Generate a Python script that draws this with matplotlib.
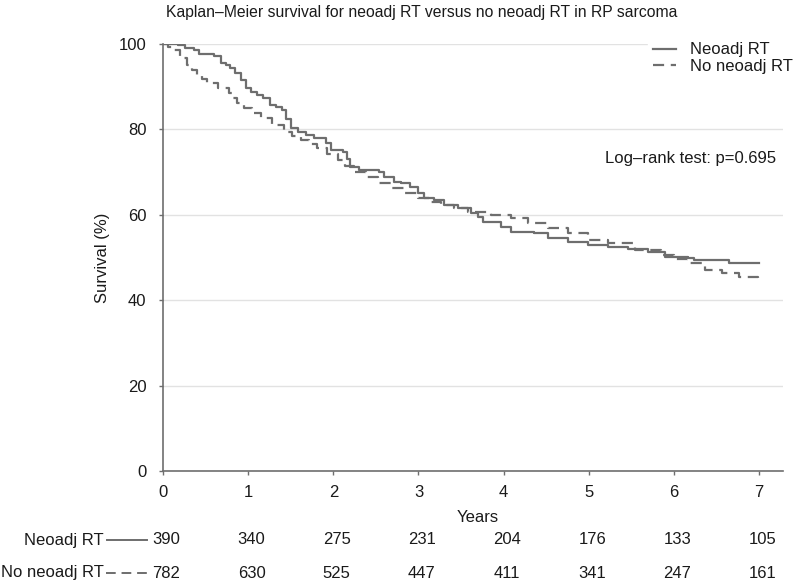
import matplotlib
matplotlib.use("Agg")
import matplotlib.pyplot as plt
from matplotlib.lines import Line2D
import matplotlib.transforms as mtransforms

plt.rcParams['font.family'] = ['Liberation Sans', 'DejaVu Sans']

# Kaplan-Meier curves (years, survival %)
neo_t = [0, 0.18, 0.26, 0.36, 0.42, 0.6, 0.68, 0.74, 0.79, 0.85,
         0.91, 0.97, 1.03, 1.10, 1.18, 1.26, 1.33, 1.40, 1.45, 1.50,
         1.58, 1.68, 1.77, 1.91, 1.97, 2.11, 2.16, 2.2, 2.3, 2.54,
         2.6, 2.71, 2.79, 2.9, 2.99, 3.07, 3.18, 3.30, 3.46, 3.62,
         3.70, 3.76, 3.97, 4.09, 4.36, 4.52, 4.76, 4.99, 5.23, 5.46,
         5.70, 5.89, 6.17, 6.24, 6.65, 7.0]
neo_s = [100, 99.8, 99.0, 98.6, 97.7, 97.2, 95.5, 95.0, 94.3, 93.1,
         91.6, 89.7, 88.8, 88.0, 87.3, 85.7, 85.2, 84.5, 82.5, 80.3,
         79.5, 78.8, 78.0, 76.8, 75.2, 74.8, 73.0, 71.3, 70.5, 70.1,
         68.9, 67.7, 67.4, 66.5, 65.0, 63.9, 63.5, 62.3, 61.6, 60.4,
         59.5, 58.4, 57.2, 56.0, 55.7, 54.5, 53.7, 52.9, 52.5, 52.0,
         51.4, 50.2, 50.0, 49.3, 48.8, 48.8]

no_t = [0, 0.06, 0.12, 0.2, 0.28, 0.34, 0.40, 0.46, 0.52, 0.64,
        0.77, 0.82, 0.87, 0.95, 1.05, 1.15, 1.28, 1.42, 1.52, 1.62,
        1.71, 1.81, 1.93, 2.05, 2.14, 2.24, 2.38, 2.52, 2.68, 2.83,
        2.99, 3.15, 3.26, 3.42, 3.58, 3.85, 4.09, 4.28, 4.52, 4.76,
        4.99, 5.23, 5.54, 5.85, 6.0, 6.17, 6.36, 6.56, 6.76, 6.99]
no_s = [100, 99.4, 98.6, 96.7, 95.1, 94.0, 92.7, 91.8, 90.9, 89.8,
        88.5, 87.3, 86.2, 85.0, 83.8, 82.7, 81.0, 79.5, 78.5, 77.5,
        76.6, 75.6, 74.2, 72.8, 71.5, 70.1, 68.8, 67.4, 66.2, 65.0,
        64.0, 63.1, 62.3, 61.5, 60.7, 59.9, 59.2, 58.0, 56.8, 55.7,
        54.1, 53.3, 51.8, 50.6, 49.6, 48.6, 47.1, 46.3, 45.5, 44.3]

# Numbers at risk
risk_years = [0, 1, 2, 3, 4, 5, 6, 7]
risk_neo = [390, 340, 275, 231, 204, 176, 133, 105]
risk_no = [782, 630, 525, 447, 411, 341, 247, 161]

x_ticks = [0, 1, 2, 3, 4, 5, 6, 7]
y_ticks = [0, 20, 40, 60, 80, 100]

W, H = 800, 588
FS = 12
fig = plt.figure(figsize=(8, 5.88), dpi=100)
ax = fig.add_axes([163 / W, 1 - 471 / H, (783 - 163) / W, (471 - 44) / H])

gray = '#6e6e6e'
txt = '#1a1a1a'

ax.set_xlim(0, 7.28)
ax.set_ylim(0, 100)
ax.set_yticks(y_ticks)
ax.set_xticks(x_ticks)
ax.grid(axis='y', color='#e2e2e2', linewidth=1.0)
ax.set_axisbelow(True)
for s in ['top', 'right']:
    ax.spines[s].set_visible(False)
for s in ['left', 'bottom']:
    ax.spines[s].set_color(gray)
    ax.spines[s].set_linewidth(1.2)
ax.tick_params(axis='both', colors=gray, labelcolor=txt, labelsize=FS,
               length=3, width=1, direction='out', pad=7)
ax.tick_params(axis='y', pad=9)

l1, = ax.plot(neo_t, neo_s, drawstyle='steps-post', color=gray, linewidth=1.6,
              label='Neoadj RT')
l2, = ax.plot(no_t, no_s, drawstyle='steps-post', color=gray, linewidth=1.6,
              linestyle=(0, (5, 3)), label='No neoadj RT')

leg = ax.legend(handles=[l1, l2], loc='upper right', bbox_to_anchor=(1.037, 1.035),
                frameon=True, fontsize=FS, handlelength=1.4, handletextpad=0.8,
                labelspacing=0.1, borderpad=0.3, fancybox=False)
leg.get_frame().set_edgecolor('white')
leg.get_frame().set_facecolor('white')
leg.get_frame().set_alpha(1)
for t in leg.get_texts():
    t.set_color(txt)

fig.text(776 / W, 1 - 159 / H, 'Log\u2013rank test: p=0.695',
         ha='right', va='center', fontsize=FS, color=txt)

fig.text(103 / W, 1 - 258 / H, 'Survival (%)', rotation=90, ha='center', va='center',
         fontsize=FS, color=txt)
fig.text(478 / W, 1 - 518 / H, 'Years', ha='center', va='center', fontsize=FS, color=txt)
fig.text(422 / W, 1 - 13 / H,
         'Kaplan\u2013Meier survival for neoadj RT versus no neoadj RT in RP sarcoma',
         ha='center', va='center', fontsize=11.3, color=txt)

# Risk table
blend = mtransforms.blended_transform_factory(ax.transData, fig.transFigure)
row_y = [1 - 540 / H, 1 - 573 / H]
for yy, vals in zip(row_y, [risk_neo, risk_no]):
    for xv, v in zip(risk_years, vals):
        ax.text(xv + 0.04, yy, str(v), transform=blend, ha='center', va='center',
                fontsize=FS, color=txt, clip_on=False)

fig.text(104 / W, row_y[0], 'Neoadj RT', ha='right', va='center', fontsize=FS, color=txt)
fig.text(104 / W, row_y[1], 'No neoadj RT', ha='right', va='center', fontsize=FS, color=txt)
fig.add_artist(Line2D([107 / W, 147 / W], [row_y[0], row_y[0]], transform=fig.transFigure,
                      color=gray, linewidth=1.4))
fig.add_artist(Line2D([106 / W, 147 / W], [row_y[1], row_y[1]], transform=fig.transFigure,
                      color=gray, linewidth=1.4, linestyle=(0, (5, 3))))

fig.savefig('out.png', dpi=100)
